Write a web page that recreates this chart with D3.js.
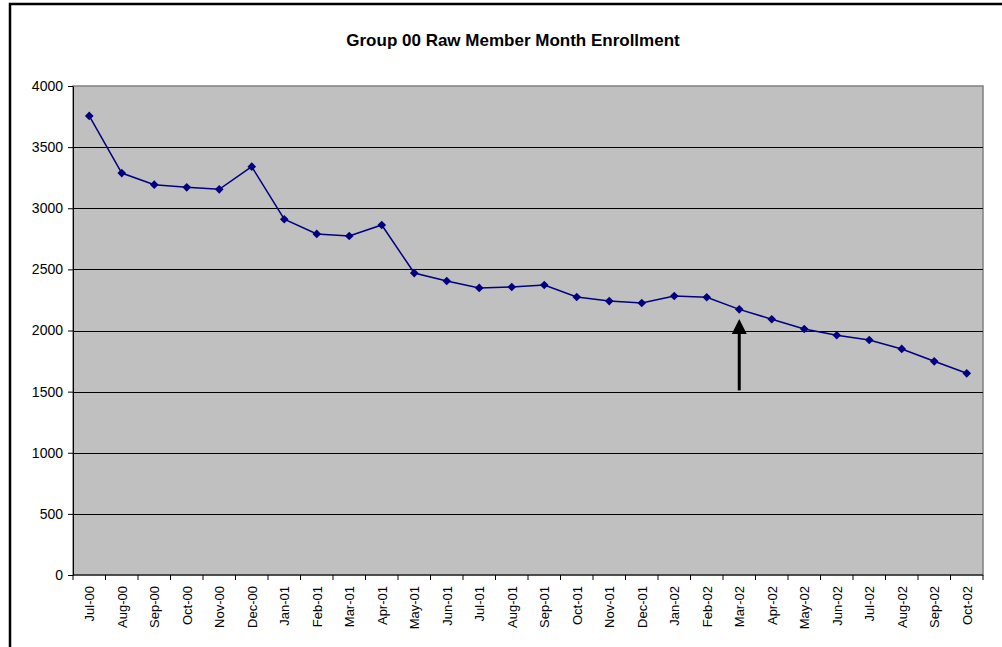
<!DOCTYPE html>
<html>
<head>
<meta charset="utf-8">
<script src="https://cdn.jsdelivr.net/npm/d3@7"></script>
<style>
  body { margin: 0; background: #fff; }
  svg text { font-family: "Liberation Sans", Arial, sans-serif; }
</style>
</head>
<body>
<div id="chart"></div>
<script>
// data
var months = ["Jul-00","Aug-00","Sep-00","Oct-00","Nov-00","Dec-00","Jan-01","Feb-01","Mar-01","Apr-01",
              "May-01","Jun-01","Jul-01","Aug-01","Sep-01","Oct-01","Nov-01","Dec-01","Jan-02","Feb-02",
              "Mar-02","Apr-02","May-02","Jun-02","Jul-02","Aug-02","Sep-02","Oct-02"];
var enrollment = [3755, 3288, 3193, 3171, 3155, 3340, 2910, 2790, 2773, 2863,
                  2470, 2405, 2348, 2356, 2372, 2274, 2241, 2225, 2282, 2272,
                  2173, 2092, 2012, 1961, 1922, 1849, 1748, 1650];
var yTicks = [0, 500, 1000, 1500, 2000, 2500, 3000, 3500, 4000];
var arrowMonth = "Mar-02";
var arrowFrom = 1510, arrowTo = 2095;

var W = 1002, H = 647;
var margin = {top: 86, right: 19, bottom: 72, left: 73},
    width = W - margin.left - margin.right,
    height = H - margin.top - margin.bottom;

var svg = d3.select("#chart").append("svg")
    .attr("width", W).attr("height", H);

// outer frame (right and bottom fall outside the window)
svg.append("rect")
    .attr("x", 10).attr("y", 4)
    .attr("width", 1010).attr("height", 660)
    .attr("fill", "none").attr("stroke", "#000").attr("stroke-width", 2.5);

svg.append("text")
    .attr("x", 513).attr("y", 46)
    .attr("text-anchor", "middle")
    .style("font-size", "17px").style("font-weight", "bold")
    .text("Group 00 Raw Member Month Enrollment");

var g = svg.append("g").attr("transform", "translate(" + margin.left + "," + margin.top + ")");

var x = d3.scaleBand().domain(months).range([0, width]);
var y = d3.scaleLinear().domain([0, 4000]).range([height, 0]);

// plot background
g.append("rect")
    .attr("width", width).attr("height", height)
    .attr("fill", "#c0c0c0").attr("stroke", "#808080").attr("stroke-width", 1.5);

// gridlines
g.selectAll(".grid").data(yTicks.filter(function(d){ return d > 0 && d < 4000; }))
  .enter().append("line")
    .attr("x1", 0).attr("x2", width)
    .attr("y1", function(d){ return Math.round(y(d)) + 0.5; })
    .attr("y2", function(d){ return Math.round(y(d)) + 0.5; })
    .attr("stroke", "#000").attr("stroke-width", 1);

// y axis
var yAxis = g.append("g")
    .call(d3.axisLeft(y).tickValues(yTicks).tickFormat(d3.format("d")).tickSize(5).tickSizeOuter(0));
yAxis.selectAll("text").style("font-size", "14px").attr("fill", "#000").attr("x", -10);
yAxis.select(".domain").attr("stroke", "#000");

// x axis, ticks at category boundaries
var xAxis = g.append("g").attr("transform", "translate(0," + height + ")");
xAxis.append("line").attr("x1", 0).attr("x2", width).attr("stroke", "#000");
xAxis.selectAll(".tk").data(months.concat(["end"]))
  .enter().append("line")
    .attr("x1", function(d, i){ return i < months.length ? x(d) : width; })
    .attr("x2", function(d, i){ return i < months.length ? x(d) : width; })
    .attr("y1", 0).attr("y2", 5).attr("stroke", "#000");
xAxis.selectAll(".lbl").data(months)
  .enter().append("text")
    .attr("transform", function(d){
      return "translate(" + (x(d) + x.bandwidth() / 2 + 5) + ",11) rotate(-90)";
    })
    .attr("text-anchor", "end")
    .style("font-size", "13px")
    .text(function(d){ return d; });

// series line
var line = d3.line()
    .x(function(d, i){ return x(months[i]) + x.bandwidth() / 2; })
    .y(function(d){ return y(d); });
g.append("path").datum(enrollment)
    .attr("d", line).attr("fill", "none")
    .attr("stroke", "#000080").attr("stroke-width", 1.5);

// diamond markers
g.selectAll(".pt").data(enrollment)
  .enter().append("path")
    .attr("d", d3.symbol().type(d3.symbolDiamond2).size(48))
    .attr("transform", function(d, i){
      return "translate(" + (x(months[i]) + x.bandwidth() / 2) + "," + y(d) + ")";
    })
    .attr("fill", "#000080");

// arrow
var ax = x(arrowMonth) + x.bandwidth() / 2;
g.append("line")
    .attr("x1", ax).attr("x2", ax)
    .attr("y1", y(arrowFrom)).attr("y2", y(arrowTo) + 10)
    .attr("stroke", "#000").attr("stroke-width", 3);
g.append("path")
    .attr("d", "M" + ax + "," + y(arrowTo) + " L" + (ax - 7.5) + "," + (y(arrowTo) + 15) +
               " L" + (ax + 7.5) + "," + (y(arrowTo) + 15) + "Z")
    .attr("fill", "#000");
</script>
</body>
</html>
